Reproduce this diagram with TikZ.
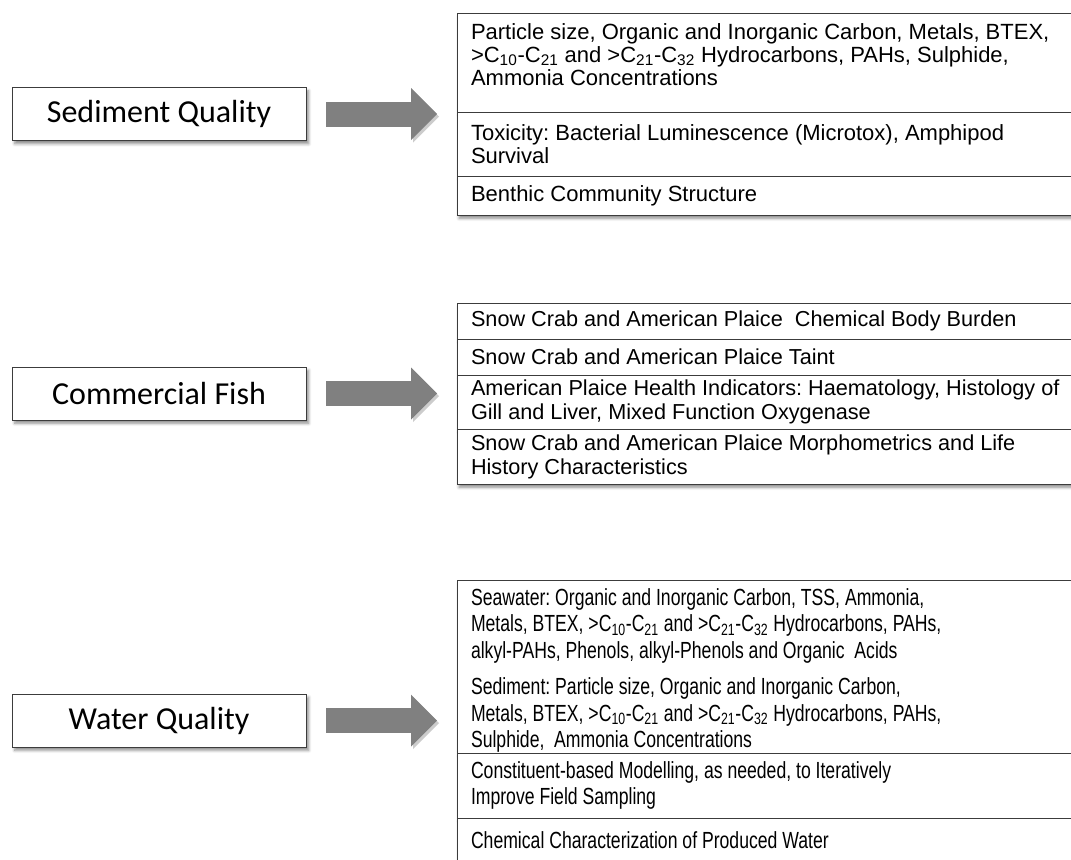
\documentclass[tikz,border=0pt]{standalone}
\usepackage{fontspec}
\setmainfont{Liberation Sans}
\newfontfamily\catfont{Carlito}
\newfontfamily\narrowfont[FakeStretch=0.755]{Liberation Sans}
\usetikzlibrary{positioning, arrows.meta, shadows.blur}
\definecolor{arrowgray}{RGB}{128,128,128}
\definecolor{linegray}{RGB}{60,60,60}
\newcommand{\Cn}[1]{C\textsubscript{#1}}
\frenchspacing

\begin{document}
\begin{tikzpicture}[
  x=0.75pt, y=-0.75pt,
  catbox/.style={rectangle, draw=linegray, fill=white, line width=0.75pt,
                 minimum width=220.5pt, minimum height=39.75pt, outer sep=0pt,
                 font=\catfont\fontsize{24}{28}\selectfont,
                 blur shadow={shadow xshift=2pt, shadow yshift=-2.5pt,
                              shadow opacity=45}},
  cell/.style={rectangle, draw=linegray, fill=white, line width=0.75pt,
               minimum height=#1, text width=465pt, inner xsep=10.5pt,
               inner ysep=0pt, outer sep=0pt, align=left, anchor=north west,
               blur shadow={shadow xshift=1.5pt, shadow yshift=-2.5pt,
                            shadow opacity=45}},
  wide/.style={font=\fontsize{16.5}{17.25}\selectfont,
               execute at begin node={\spaceskip=0.278em\relax}},
  mid/.style={font=\fontsize{16.25}{18}\selectfont,
              execute at begin node={\spaceskip=0.278em\relax}},
  narrow/.style={font=\narrowfont\fontsize{17.5}{20}\selectfont,
                 execute at begin node={\spaceskip=0.21em\relax}},
  blockarr/.style={draw=arrowgray, line width=18.75pt,
                   -{Triangle[length=19.5pt, width=39pt, line width=0pt]},
                   shorten <=15pt, shorten >=15pt,
                   preaction={draw=black!20,
                              transform canvas={xshift=1.5pt, yshift=-2pt}}},
]
\useasboundingbox (0,0) rectangle (1071,860);
\clip (0,0) rectangle (1071,860);
% Sediment quality
\node[cell=74.25pt, wide] (sed1) at (457,13)
  {Particle size, Organic and Inorganic Carbon, Metals, BTEX,\\
   >\Cn{10}-\Cn{21} and >\Cn{21}-\Cn{32} Hydrocarbons, PAHs, Sulphide,\\
   Ammonia Concentrations\\[-5pt]\mbox{}};
\node[cell=48pt, wide, below=0pt of sed1] (sed2)
  {Toxicity: Bacterial Luminescence (Microtox), Amphipod\\ Survival};
\node[cell=29.25pt, wide, below=0pt of sed2] (sed3)
  {Benthic Community Structure};
\node[catbox] (sedq) at (159,114) {Sediment Quality};
% Commercial fish
\node[cell=27pt, mid] (fish1) at (457,303)
  {Snow Crab and American Plaice~ Chemical Body Burden};
\node[cell=27pt, mid, below=0pt of fish1] (fish2)
  {Snow Crab and American Plaice Taint};
\node[cell=40.5pt, mid, below=0pt of fish2] (fish3)
  {American Plaice Health Indicators: Haematology, Histology of\\
   Gill and Liver, Mixed Function Oxygenase};
\node[cell=41.25pt, mid, below=0pt of fish3] (fish4)
  {Snow Crab and American Plaice Morphometrics and Life\\
   History Characteristics};
\node[catbox] (fishq) at (159,393.5) {Commercial Fish};
% Water quality
\node[cell=129.75pt, narrow] (wat1) at (457,580)
  {\rule{0pt}{18.75pt}Seawater: Organic and Inorganic Carbon, TSS, Ammonia,\\
   Metals, BTEX, >\Cn{10}-\Cn{21} and >\Cn{21}-\Cn{32} Hydrocarbons, PAHs,\\
   alkyl-PAHs, Phenols, alkyl-Phenols and Organic~ Acids\\[7pt]
   Sediment: Particle size, Organic and Inorganic Carbon,\\
   Metals, BTEX, >\Cn{10}-\Cn{21} and >\Cn{21}-\Cn{32} Hydrocarbons, PAHs,\\
   Sulphide,~ Ammonia Concentrations};
\node[cell=48.75pt, narrow, below=0pt of wat1] (wat2)
  {Constituent-based Modelling, as needed, to Iteratively\\
   Improve Field Sampling};
\node[cell=33pt, narrow, below=0pt of wat2] (wat3)
  {Chemical Characterization of Produced Water};
\node[catbox] (waterq) at (159,720.5) {Water Quality};
% Block arrows
\draw[blockarr] (sedq.east)   -- (sedq.east -| sed1.west);
\draw[blockarr] (fishq.east)  -- (fishq.east -| fish1.west);
\draw[blockarr] (waterq.east) -- (waterq.east -| wat1.west);
\end{tikzpicture}
\end{document}
